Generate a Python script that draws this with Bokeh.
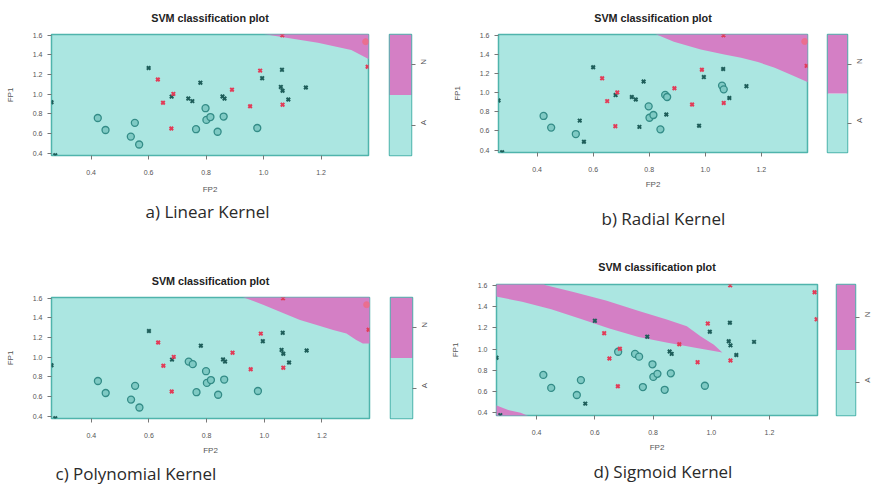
import math
from bokeh.plotting import figure
from bokeh.layouts import row, column
from bokeh.models import Range1d, FixedTicker, Title, ColumnDataSource
from bokeh.embed import file_html
from bokeh.resources import INLINE

# ---- observations (FP2 on x, FP1 on y) ----
fp2 = [0.600, 0.780, 0.680, 0.738, 0.752, 0.857, 0.864, 0.995, 1.064, 1.060,
       1.066, 1.086, 1.147, 0.262, 0.275, 0.423, 0.450, 0.552, 0.538, 0.567,
       0.765, 0.798, 0.801, 0.815, 0.840, 0.861, 0.978,
       0.632, 0.650, 0.686, 0.679, 0.890, 0.988, 0.953, 1.066, 1.355, 1.065, 1.362]
fp1 = [1.266, 1.117, 0.975, 0.955, 0.929, 0.977, 0.955, 1.163, 1.248, 1.074,
       1.035, 0.945, 1.068, 0.918, 0.378, 0.757, 0.635, 0.708, 0.568, 0.487,
       0.643, 0.857, 0.738, 0.767, 0.617, 0.772, 0.655,
       1.150, 0.912, 1.003, 0.650, 1.046, 1.240, 0.877, 0.893, 1.535, 1.600, 1.280]
group = ["A"] * 27 + ["N"] * 11

# support-vector flags per kernel (1 = support vector, drawn as "x")
sv_linear = [1] * 15 + [0] * 12 + [1] * 8 + [0, 1, 1]
sv_radial = [1, 1, 1, 1, 1, 0, 0, 1, 1, 0, 0, 1, 1, 1, 1,
             0, 0, 1, 0, 1, 1, 0, 0, 0, 0, 1, 1] + [1] * 8 + [0, 1, 1]
sv_poly = [1, 1, 1, 0, 0] + [1] * 10 + [0] * 12 + [1] * 8 + [0, 1, 1]
sv_sigmoid = [1, 1, 0, 0, 0] + [1] * 10 + [0, 0, 0, 0, 1] + [0] * 7 + [1] * 11

# decision regions predicted as class N (polygon outlines in data units)
lin_x = [0.985, 1.074, 1.189, 1.305, 1.37, 1.37]
lin_y = [1.62, 1.577, 1.523, 1.449, 1.35, 1.62]
rad_x = [0.816, 0.888, 0.984, 1.068, 1.128, 1.188, 1.248, 1.308, 1.37, 1.37]
rad_y = [1.62, 1.531, 1.451, 1.399, 1.365, 1.320, 1.261, 1.185, 1.105, 1.62]
pol_x = [0.918, 0.998, 1.067, 1.124, 1.182, 1.239, 1.285, 1.319, 1.342, 1.37, 1.37]
pol_y = [1.62, 1.532, 1.447, 1.379, 1.328, 1.276, 1.242, 1.174, 1.139, 1.139, 1.62]
sig_x = [0.24, 0.42, 0.428, 0.523, 0.638, 0.754, 0.847, 0.916, 0.963, 1.009, 1.038,
         0.95, 0.85, 0.75, 0.65, 0.55, 0.45, 0.35, 0.253, 0.24]
sig_y = [1.65, 1.65, 1.603, 1.540, 1.458, 1.357, 1.278, 1.215, 1.120, 1.041, 0.968,
         1.01, 1.06, 1.115, 1.195, 1.285, 1.375, 1.445, 1.50, 1.50]
sig2_x = [0.24, 0.30, 0.345, 0.39, 0.24]
sig2_y = [0.492, 0.428, 0.40, 0.35, 0.35]

x_ticks = [0.4, 0.6, 0.8, 1.0, 1.2]
x_tick_labels = ["0.4", "0.6", "0.8", "1.0", "1.2"]
y_ticks = [0.4, 0.6, 0.8, 1.0, 1.2, 1.4, 1.6]
y_tick_labels = ["0.4", "0.6", "0.8", "1.0", "1.2", "1.4", "1.6"]
key_classes = ["A", "N"]
key_ticks = [0.5, 1.5]

X_RANGE = (0.262, 1.365)
Y_RANGE = (0.375, 1.608)

CYAN = "#abe6e1"
MAGENTA = "#d47fc5"
EDGE = "#4fb4ac"
DARK = "#1e5e5a"
RING = "#338c87"
RING_FILL = "#7fcac4"
RED = "#e23c58"
PINK = "#ea6f90"
TICK = "#777777"
LABEL = "#555555"


def style_axes(p, xlabel_standoff):
    p.xgrid.visible = False
    p.ygrid.visible = False
    xa, ya = p.xaxis[0], p.yaxis[0]
    xa.ticker = FixedTicker(ticks=x_ticks)
    xa.major_label_overrides = dict(zip(x_ticks, x_tick_labels))
    ya.ticker = FixedTicker(ticks=y_ticks)
    ya.major_label_overrides = dict(zip(y_ticks, y_tick_labels))
    for ax in (xa, ya):
        ax.axis_line_color = None
        ax.major_tick_line_color = TICK
        ax.minor_tick_line_color = None
        ax.major_tick_in = 0
        ax.major_tick_out = 4
        ax.major_label_text_font = "Liberation Sans"
        ax.major_label_text_font_size = "7px"
        ax.major_label_text_color = LABEL
        ax.axis_label_text_font = "Liberation Sans"
        ax.axis_label_text_font_size = "8px"
        ax.axis_label_text_font_style = "normal"
        ax.axis_label_text_color = LABEL
    xa.axis_label = "FP2"
    ya.axis_label = "FP1"
    xa.major_label_standoff = 10
    xa.axis_label_standoff = xlabel_standoff
    ya.major_label_standoff = 5
    ya.axis_label_standoff = 15
    ya.major_label_orientation = "horizontal"


def panel(sv, regions, caption, cap_offset, cap_standoff, xlabel_standoff, title_standoff,
          w, h, left, right, top, bottom):
    p = figure(width=w, height=h, x_range=Range1d(*X_RANGE), y_range=Range1d(*Y_RANGE),
               output_backend="svg", toolbar_location=None,
               min_border_left=left, min_border_right=right,
               min_border_top=top, min_border_bottom=bottom)
    p.background_fill_color = CYAN
    p.border_fill_color = "white"
    p.outline_line_color = EDGE
    p.outline_line_width = 1.5
    p.title.text = "SVM classification plot"
    p.title.align = "center"
    p.title.vertical_align = "middle"
    p.title.text_font = "Liberation Sans"
    p.title.text_font_size = "10.8px"
    p.title.text_font_style = "bold"
    p.title.text_color = "#222222"
    p.title.standoff = title_standoff
    style_axes(p, xlabel_standoff)

    for rx, ry in regions:
        p.patch(rx, ry, fill_color=MAGENTA, line_color=None)

    groups = {k: {"x": [], "y": []} for k in (("A", 0), ("A", 1), ("N", 0), ("N", 1))}
    for xv, yv, g, s in zip(fp2, fp1, group, sv):
        groups[(g, s)]["x"].append(xv)
        groups[(g, s)]["y"].append(yv)

    p.scatter("x", "y", source=ColumnDataSource(groups[("A", 0)]), marker="circle", size=7,
              line_color=RING, line_width=1.3, fill_color=RING_FILL)
    p.scatter("x", "y", source=ColumnDataSource(groups[("N", 0)]), marker="circle", size=6,
              line_color=PINK, line_width=1.0, fill_color=PINK)
    p.scatter("x", "y", source=ColumnDataSource(groups[("A", 1)]), marker="x", size=5,
              line_color=DARK, line_width=2.0)
    p.scatter("x", "y", source=ColumnDataSource(groups[("N", 1)]), marker="x", size=5,
              line_color=RED, line_width=2.0)

    cap = Title(text=caption, align="left", offset=cap_offset, text_font="Open Sans",
                text_font_size="17px", text_font_style="normal", text_color="#2a2a2a",
                standoff=cap_standoff)
    p.add_layout(cap, "below")
    return p


def key(w, h, left, right, top, bottom):
    k = figure(width=w, height=h, x_range=Range1d(0, 1), y_range=Range1d(0, 2),
               output_backend="svg", toolbar_location=None,
               x_axis_location=None, y_axis_location="right",
               min_border_left=left, min_border_right=right,
               min_border_top=top, min_border_bottom=bottom)
    k.xgrid.visible = False
    k.ygrid.visible = False
    k.outline_line_color = EDGE
    k.outline_line_width = 1.5
    k.quad(left=0, right=1, bottom=[0, 1], top=[1, 2], fill_color=[CYAN, MAGENTA], line_color=None)
    ax = k.yaxis[0]
    ax.ticker = FixedTicker(ticks=key_ticks)
    ax.major_label_overrides = dict(zip(key_ticks, key_classes))
    ax.axis_line_color = None
    ax.minor_tick_line_color = None
    ax.major_tick_line_color = TICK
    ax.major_tick_in = 0
    ax.major_tick_out = 4
    ax.major_label_standoff = 8
    ax.major_label_orientation = math.pi / 2
    ax.major_label_text_font = "Liberation Sans"
    ax.major_label_text_font_size = "8px"
    ax.major_label_text_color = LABEL
    return k


pa = panel(sv_linear, [(lin_x, lin_y)], "a) Linear Kernel", 94, 2, 7, 19,
           380, 245, 51, 12, 34, 90)
ka = key(60, 245, 9, 29, 34, 90)
pb = panel(sv_radial, [(rad_x, rad_y)], "b) Radial Kernel", 103, 26, 5, 19,
           378, 245, 58, 11, 34, 93)
kb = key(61, 245, 9, 32, 34, 93)
pc = panel(sv_poly, [(pol_x, pol_y)], "c) Polynomial Kernel", 4, 5, 5, 19,
           380, 247, 51, 11, 52, 74)
kc = key(60, 247, 10, 28, 52, 74)
pd_ = panel(sv_sigmoid, [(sig_x, sig_y), (sig2_x, sig2_y)], "d) Sigmoid Kernel", 97, 7, 5, 22,
            386, 247, 56, 9, 39, 77)
kd = key(53, 247, 10, 20, 39, 77)

# each panel keeps its own frame geometry; plot and key are paired in their own rows
top_row = row(row(pa, ka, spacing=0), row(pb, kb, spacing=0), spacing=0)
bottom_row = row(row(pc, kc, spacing=0), row(pd_, kd, spacing=0), spacing=0)
layout = column(top_row, bottom_row, spacing=0)

with open("out.html", "w") as f:
    f.write(file_html(layout, INLINE))
